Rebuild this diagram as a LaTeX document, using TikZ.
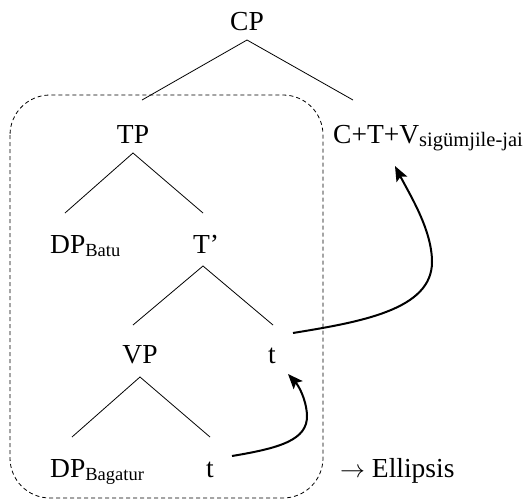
\documentclass[tikz,border=0pt]{standalone}
\usepackage{fontspec}
\setmainfont{Liberation Serif}
\usetikzlibrary{arrows.meta}

% lowered, smaller index text
\newcommand\lbl[2][18.5]{\raisebox{-3pt}{\fontsize{#1}{#1}\selectfont #2}}

\tikzset{
  cat/.style={inner sep=0pt, font=\fontsize{27.5}{31}\selectfont},
  branch/.style={line width=0.8pt},
  move/.style={line width=2pt, -{Stealth[length=15pt,width=12pt,inset=3pt]}},
  elided/.style={dash pattern=on 4pt off 3pt, line width=0.8pt, black, rounded corners=40pt},
}

\begin{document}
\begin{tikzpicture}[x=1pt, y=-1pt]
\useasboundingbox (0,0) rectangle (525,501);

% ellipsis domain
\draw[elided] (10,95) rectangle (323,498);

% category labels
\node[cat, anchor=base] (cp) at (247,30) {CP};
\node[cat, anchor=base] (tp) at (133,143) {TP};
\node[cat, anchor=base west] (ctv) at (333,143) {C+T+V\lbl[20.5]{sigümjile-jai}};
\node[cat, anchor=base west] (dpb) at (50,253) {DP\lbl{Batu}};
\node[cat, anchor=base] (tbar) at (206,253) {T’};
\node[cat, anchor=base] (vp) at (140,363) {VP};
\node[cat, anchor=base] (tt) at (272,363) {t};
\node[cat, anchor=base west] (dpg) at (50,477) {DP\lbl{Bagatur}};
\node[cat, anchor=base] (vt) at (210,477) {t};
\node[cat, anchor=base west] (ell) at (340,477) {$\rightarrow$ Ellipsis};

% branch points
\coordinate (cp-a) at (247,40);
\coordinate (cp-l) at (142,100);
\coordinate (cp-r) at (353,100);
\coordinate (tp-a) at (133,153);
\coordinate (tp-l) at (65,213);
\coordinate (tp-r) at (203,213);
\coordinate (tb-a) at (203,266);
\coordinate (tb-l) at (133,325);
\coordinate (tb-r) at (273,325);
\coordinate (vp-a) at (140,377);
\coordinate (vp-l) at (72,437);
\coordinate (vp-r) at (210,437);

\draw[branch] (cp-l) -- (cp-a) -- (cp-r);
\draw[branch] (tp-l) -- (tp-a) -- (tp-r);
\draw[branch] (tb-l) -- (tb-a) -- (tb-r);
\draw[branch] (vp-l) -- (vp-a) -- (vp-r);

% head movement
\coordinate (m1s) at (232,456);
\coordinate (m1e) at (288,374);
\coordinate (m2s) at (293,333);
\coordinate (m2e) at (395,166);
\draw[move] (m1s) .. controls (280,448) and (308,440) .. (307,415)
                  .. controls (306,398) and (298,385) .. (m1e);
\draw[move] (m2s) .. controls (360,322) and (432,310) .. (432,262)
                  .. controls (432,230) and (410,195) .. (m2e);
\end{tikzpicture}
\end{document}
